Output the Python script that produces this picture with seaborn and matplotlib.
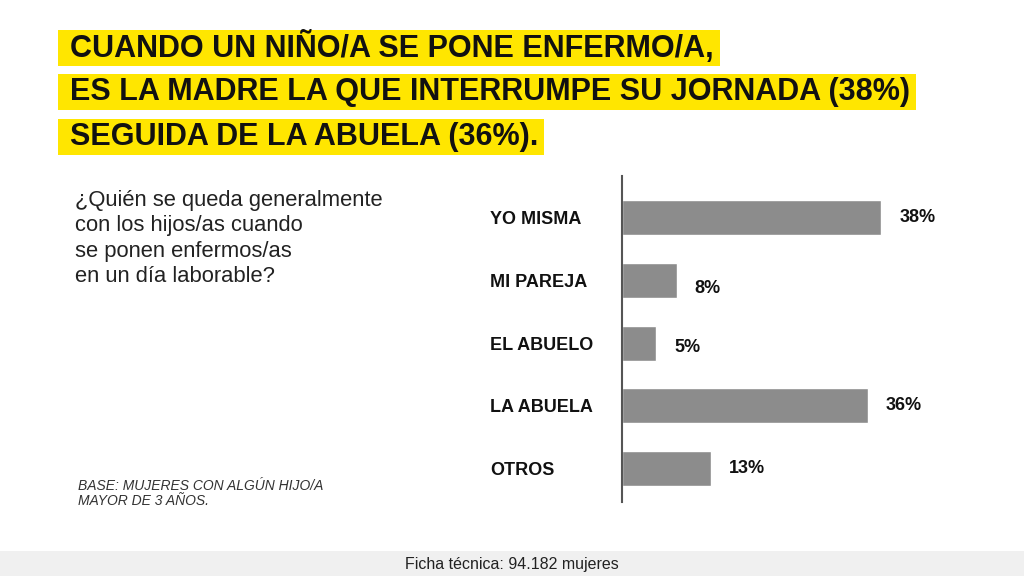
import matplotlib
matplotlib.use("Agg")
import matplotlib.pyplot as plt
import seaborn as sns
import pandas as pd
from matplotlib.font_manager import fontManager

categories = ["YO MISMA", "MI PAREJA", "EL ABUELO", "LA ABUELA", "OTROS"]
values = [38, 8, 5, 36, 13]
value_labels = ["38%", "8%", "5%", "36%", "13%"]
title_lines = ["CUANDO UN NIÑO/A SE PONE ENFERMO/A,",
               "ES LA MADRE LA QUE INTERRUMPE SU JORNADA (38%)",
               "SEGUIDA DE LA ABUELA (36%)."]
question = "¿Quién se queda generalmente\ncon los hijos/as cuando\nse ponen enfermos/as\nen un día laborable?"
base_note = "BASE: MUJERES CON ALGÚN HIJO/A\nMAYOR DE 3 AÑOS."
footer = "Ficha técnica: 94.182 mujeres"

sns.set_theme(style="white")
names = {f.name for f in fontManager.ttflist}
narrow = "Liberation Sans Narrow" if "Liberation Sans Narrow" in names else "Liberation Sans"
plt.rcParams["font.family"] = ["Liberation Sans", "DejaVu Sans"]

W, H = 1024, 576
fig = plt.figure(figsize=(W / 100, H / 100), dpi=100)
fig.patch.set_facecolor("white")

# footer band
fig.patches.append(plt.Rectangle((0, 0), 1, 25 / H, transform=fig.transFigure,
                                 facecolor="#f0f0f0", edgecolor="none", zorder=0))
fig.text(512 / W, 11 / H, footer, ha="center", va="center", fontsize=11.5,
         family=narrow, color="#222222")

# title lines with yellow highlight boxes
yellow = "#ffe600"
title_y = [48, 92, 137]
renderer = fig.canvas.get_renderer()
for line, yy in zip(title_lines, title_y):
    t = fig.text(70 / W, 1 - yy / H, line, ha="left", va="center", fontsize=22,
                 fontweight="bold", family=narrow, color="#111111", zorder=3)
    bb = t.get_window_extent(renderer)
    x0 = bb.x0 - 12
    x1 = bb.x1 + 6
    yc = H - yy
    fig.patches.append(plt.Rectangle((x0 / W, (yc - 18) / H), (x1 - x0) / W, 36 / H,
                                     transform=fig.transFigure, facecolor=yellow,
                                     edgecolor="none", zorder=1))

fig.text(75 / W, 1 - 190 / H, question, ha="left", va="top", fontsize=15.8,
         color="#222222", linespacing=1.28)
fig.text(78 / W, 1 - 479 / H, base_note, ha="left", va="top", fontsize=10,
         style="italic", color="#333333", linespacing=1.08)

# bar chart
left, right = 622 / W, 1.0
bottom, top = 1 - 502 / H, 1 - 176 / H
ax = fig.add_axes([left, bottom, right - left, top - bottom])
df = pd.DataFrame({"cat": categories, "val": values})
sns.barplot(data=df, x="val", y="cat", orient="h", color="#8c8c8c",
            width=0.56, ax=ax, saturation=1)
ax.set_xlim(0, 58.9)
ax.set_ylim(4.54, -0.67)
ax.set_xlabel("")
ax.set_ylabel("")
ax.set_xticks([])
for s in ["top", "right", "bottom"]:
    ax.spines[s].set_visible(False)
ax.spines["left"].set_color("#555555")
ax.spines["left"].set_linewidth(1.5)
ax.set_facecolor("none")
ax.tick_params(axis="y", length=0, pad=95)
for lab in ax.get_yticklabels():
    lab.set_ha("left")
    lab.set_fontweight("bold")
    lab.set_fontsize(13)
    lab.set_color("#111111")

label_dy = [0, 8, 4, 0, 0]
for i, (v, t) in enumerate(zip(values, value_labels)):
    ax.annotate(t, (v, i), xytext=(13, -label_dy[i] * 0.72), textcoords="offset points",
                ha="left", va="center", fontsize=13, fontweight="bold",
                color="#111111")

fig.savefig("out.png", dpi=100)
